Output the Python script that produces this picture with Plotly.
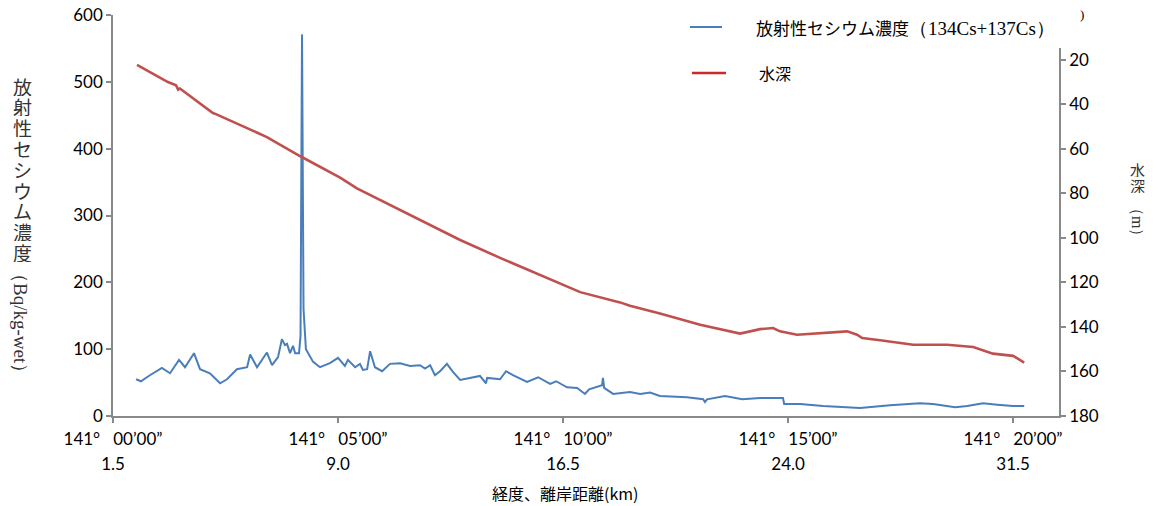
import plotly.graph_objects as go

# Radiocesium concentration (134Cs+137Cs) along the transect
km_cs = [2.27, 2.43, 2.73, 3.13, 3.40, 3.70, 3.90, 4.20, 4.40, 4.73, 5.07, 5.30,
         5.63, 5.97, 6.07, 6.30, 6.63, 6.80, 7.00, 7.13, 7.23, 7.30, 7.40, 7.50,
         7.57, 7.70, 7.75, 7.80, 7.85, 7.93, 8.17, 8.40, 8.73, 9.00, 9.23, 9.33,
         9.57, 9.73, 9.83, 9.97, 10.07, 10.23, 10.47, 10.73, 11.07, 11.40, 11.73,
         11.90, 12.07, 12.23, 12.40, 12.63, 12.83, 13.07, 13.73, 13.93, 13.97,
         14.40, 14.60, 14.83, 15.30, 15.67, 16.07, 16.27, 16.63, 16.97, 17.23,
         17.37, 17.80, 17.83, 17.87, 18.17, 18.73, 19.07, 19.40, 19.73, 20.63,
         21.17, 21.23, 21.30, 21.90, 22.47, 23.07, 23.83, 23.87, 24.40, 25.17,
         26.07, 26.40, 27.40, 28.40, 28.83, 29.57, 29.97, 30.50, 30.97, 31.50, 31.87]
cs = [55, 52, 61, 72, 64, 84, 73, 94, 70, 64, 49, 55,
      70, 73, 92, 73, 95, 76, 88, 115, 106, 108, 94, 105,
      94, 94, 120, 571, 160, 100, 81, 73, 79, 87, 75, 84,
      73, 78, 69, 70, 97, 73, 67, 78, 79, 75, 76,
      71, 76, 61, 67, 78, 66, 54, 60, 49, 57,
      55, 67, 61, 51, 58, 48, 52, 43, 42, 33,
      40, 46, 57, 42, 33, 36, 33, 35, 30, 28,
      25, 21, 25, 30, 25, 27, 27, 18, 18, 15,
      12, 12, 16, 19, 18, 13, 15, 19, 17, 15, 15]

# Water depth along the same transect
km_depth = [2.30, 2.73, 3.33, 3.60, 3.67, 3.73, 4.23, 4.83, 4.93, 5.97, 6.63,
            7.73, 9.07, 9.63, 10.40, 11.73, 13.07, 14.40, 15.73, 17.07, 18.40,
            18.73, 19.73, 21.07, 22.40, 23.07, 23.50, 23.73, 24.30, 25.97, 26.30,
            26.47, 27.07, 28.17, 29.30, 30.17, 30.83, 31.50, 31.87]
depth = [22.4, 25.6, 30.1, 31.5, 33.5, 33.0, 38.0, 44.0, 44.5, 50.7, 54.8,
         63.3, 73.0, 77.8, 83.0, 92.0, 101.0, 109.0, 116.7, 124.4, 129.0,
         130.5, 134.0, 139.0, 143.0, 141.0, 140.5, 142.0, 143.5, 142.0, 143.5,
         145.0, 146.0, 148.0, 148.0, 149.0, 152.0, 153.0, 156.0]

# Axis ticks
x_ticks = [1.5, 9.0, 16.5, 24.0, 31.5]
lon_labels = ["141°\u00a0\u00a0 00’00”", "141°\u00a0\u00a0 05’00”", "141°\u00a0\u00a0 10’00”",
              "141°\u00a0\u00a0 15’00”", "141°\u00a0\u00a0 20’00”"]
dist_labels = ["1.5", "9.0", "16.5", "24.0", "31.5"]
cs_ticks = [0, 100, 200, 300, 400, 500, 600]
depth_ticks = [20, 40, 60, 80, 100, 120, 140, 160, 180]

X_RANGE = [1.5, 33.03]
BLUE = "#4A7EBB"
RED = "#C0504D"
AXIS = "#898989"
TICK_FONT = dict(family="Lato, Noto Sans, sans-serif", size=17, color="#000000")
JP = "Noto Sans CJK JP"
SERIF = "Liberation Serif"
TITLE_GRAY = "#333333"

W, H = 1160, 506
L, R, T, B = 113, 101, 15, 90
PW, PH = W - L - R, H - T - B


def px(x):
    return (x - L) / PW


def py(y):
    return (H - B - y) / PH


fig = go.Figure()
fig.add_trace(go.Scatter(x=km_cs, y=cs, mode="lines", xaxis="x", yaxis="y",
                         line=dict(color=BLUE, width=2), showlegend=False))
fig.add_trace(go.Scatter(x=km_depth, y=depth, mode="lines", xaxis="x2", yaxis="y2",
                         line=dict(color=RED, width=2.6), showlegend=False))

annotations = []
# left axis title: upright characters stacked tightly, unit rotated
for i, ch in enumerate("放射性セシウム濃度"):
    annotations.append(dict(text=ch, x=px(22), y=py(85.5 + 20.8 * i), xref="paper", yref="paper",
                            showarrow=False, font=dict(family=JP, size=19, color=TITLE_GRAY),
                            height=20, valign="middle",
                            xanchor="center", yanchor="middle"))
annotations.append(dict(text="（Bq/kg-wet）", x=px(21), y=py(323), xref="paper", yref="paper",
                        showarrow=False, textangle=90,
                        font=dict(family=SERIF, size=19, color=TITLE_GRAY),
                        xanchor="center", yanchor="middle"))
# right axis title
for i, ch in enumerate("水深"):
    annotations.append(dict(text=ch, x=px(1137), y=py(168.5 + 16.5 * i), xref="paper", yref="paper",
                            showarrow=False, font=dict(family=JP, size=15, color=TITLE_GRAY),
                            height=16, valign="middle",
                            xanchor="center", yanchor="middle"))
annotations.append(dict(text="（m）", x=px(1137), y=py(222), xref="paper", yref="paper",
                        showarrow=False, textangle=90,
                        font=dict(family=SERIF, size=16, color=TITLE_GRAY),
                        xanchor="center", yanchor="middle"))
annotations.append(dict(text=")", x=px(1082), y=py(14), xref="paper", yref="paper",
                        showarrow=False, font=dict(family=SERIF, size=13, color="#000000"),
                        xanchor="center", yanchor="middle"))
# x axis title
annotations.append(dict(text="経度、離岸距離(km)", x=px(565), y=py(493), xref="paper", yref="paper",
                        showarrow=False, font=dict(family=JP, size=16, color="#000000"),
                        xanchor="center", yanchor="middle"))
# legend entries
annotations.append(dict(text="放射性セシウム濃度<span style='font-family:Liberation Serif;font-size:19px'>（134Cs+137Cs）</span>",
                        x=px(754), y=py(27), xref="paper", yref="paper", showarrow=False,
                        font=dict(family=JP, size=17, color="#000000"),
                        xanchor="left", yanchor="middle"))
annotations.append(dict(text="水深", x=px(757), y=py(73), xref="paper", yref="paper", showarrow=False,
                        font=dict(family=JP, size=16, color="#000000"),
                        xanchor="left", yanchor="middle"))

shapes = [
    # legend box background (masks the top of the right axis)
    dict(type="rect", xref="paper", yref="paper", x0=px(1048), x1=px(1068), y0=py(48), y1=py(0),
         fillcolor="white", line=dict(width=0), layer="above"),
    dict(type="line", xref="paper", yref="paper", x0=px(690), x1=px(722), y0=py(27), y1=py(27),
         line=dict(color=BLUE, width=2), layer="above"),
    dict(type="line", xref="paper", yref="paper", x0=px(692), x1=px(726), y0=py(73), y1=py(73),
         line=dict(color="#CC2A2A", width=2.4), layer="above"),
]

fig.update_layout(
    template="none",
    width=W, height=H,
    margin=dict(l=L, r=R, t=T, b=B, autoexpand=False),
    paper_bgcolor="white", plot_bgcolor="white",
    showlegend=False,
    xaxis=dict(range=X_RANGE, tickmode="array", tickvals=x_ticks, ticktext=lon_labels,
               showgrid=False, zeroline=False, showline=True, linecolor=AXIS, linewidth=1.5,
               ticks="outside", ticklen=5, tickcolor=AXIS, tickwidth=1.5, tickfont=TICK_FONT,
               ticklabelstandoff=2, automargin=False),
    xaxis2=dict(range=X_RANGE, overlaying="x", anchor="y2", side="bottom", tickmode="array",
                tickvals=x_ticks, ticktext=dist_labels, showgrid=False, zeroline=False,
                showline=False, ticks="", tickfont=TICK_FONT, ticklabelstandoff=36,
                automargin=False),
    yaxis=dict(range=[0, 600], tickmode="array", tickvals=cs_ticks, showgrid=False, zeroline=False,
               showline=True, linecolor=AXIS, linewidth=1.5, ticks="outside", ticklen=5,
               tickcolor=AXIS, tickwidth=1.5, tickfont=TICK_FONT, automargin=False),
    yaxis2=dict(range=[180, 0], overlaying="y", side="right", anchor="x", tickmode="array",
                tickvals=depth_ticks, showgrid=False, zeroline=False, showline=True,
                linecolor=AXIS, linewidth=1.5, ticks="outside", ticklen=5, tickcolor=AXIS,
                tickwidth=1.5, tickfont=TICK_FONT, automargin=False),
    annotations=annotations,
    shapes=shapes,
)

fig.write_html("out.html")
